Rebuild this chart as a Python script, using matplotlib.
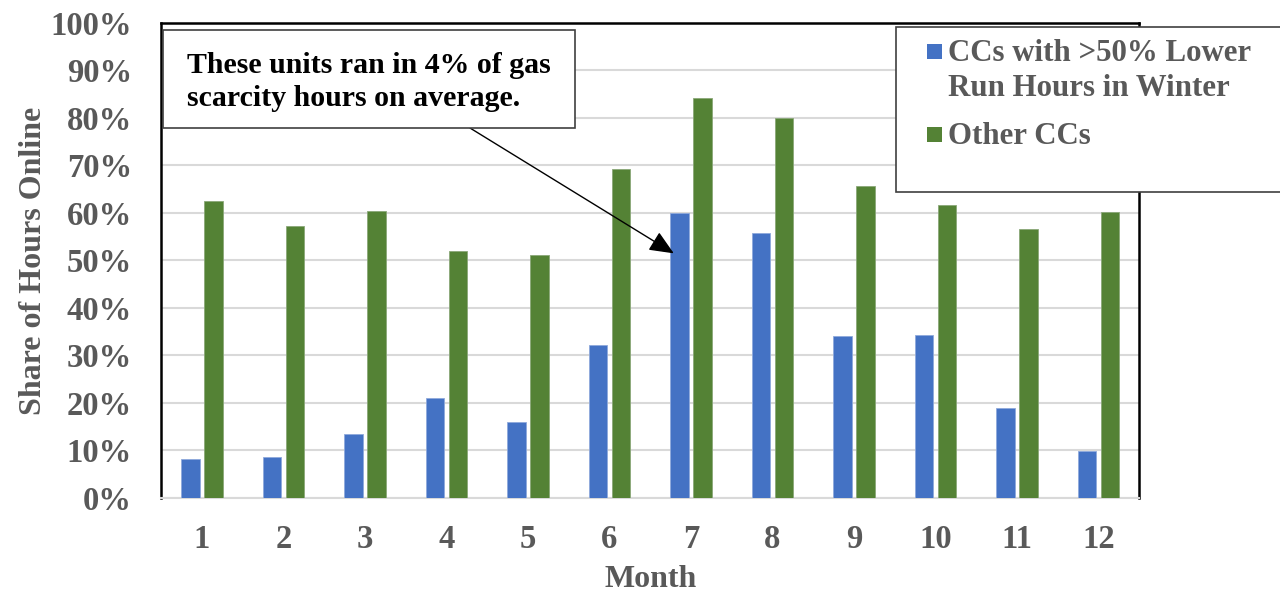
import matplotlib
matplotlib.use('Agg')
import matplotlib.pyplot as plt
from matplotlib.patches import Rectangle
import numpy as np

# Data
months = [1, 2, 3, 4, 5, 6, 7, 8, 9, 10, 11, 12]
low_winter_ccs = [8.2, 8.6, 13.4, 21.0, 16.1, 32.3, 60.0, 55.8, 34.0, 34.4, 18.9, 9.9]
other_ccs = [62.5, 57.2, 60.4, 52.0, 51.2, 69.2, 84.3, 79.9, 65.6, 61.6, 56.6, 60.2]
y_ticks = [0, 10, 20, 30, 40, 50, 60, 70, 80, 90, 100]

BLUE = '#4472C4'
GREEN = '#548235'
GRAY_TEXT = '#595959'

plt.rcParams['font.family'] = ['Liberation Serif', 'DejaVu Serif']
plt.rcParams['font.weight'] = 'bold'
plt.rcParams['axes.labelweight'] = 'bold'

fig = plt.figure(figsize=(12.8, 5.92), dpi=100)
ax = fig.add_axes([0.126, 0.1588, 0.764, 0.8024])

x = np.array(months)
w = 0.225
off = 0.141
ax.bar(x - off, low_winter_ccs, width=w, color=BLUE, edgecolor='#8fa9dc', linewidth=0.6, zorder=3)
ax.bar(x + off, other_ccs, width=w, color=GREEN, edgecolor='#8aa878', linewidth=0.6, zorder=3)

ax.set_xlim(0.5, 12.5)
ax.set_ylim(0, 100)
ax.set_yticks(y_ticks)
ax.set_yticklabels([f'{v}%' for v in y_ticks])
ax.set_xticks(months)
ax.set_xticklabels([str(m) for m in months])
ax.tick_params(axis='both', length=0, labelsize=23.5, labelcolor=GRAY_TEXT)
ax.tick_params(axis='y', pad=21)
ax.tick_params(axis='x', pad=19)
ax.grid(axis='y', color='#d9d9d9', linewidth=1.5, zorder=0)

for s in ['left', 'top', 'right']:
    ax.spines[s].set_color('black')
    ax.spines[s].set_linewidth(1.8)
ax.spines['bottom'].set_color('#d9d9d9')
ax.spines['bottom'].set_linewidth(1.5)

ax.set_ylabel('Share of Hours Online', fontsize=23, color=GRAY_TEXT, labelpad=2)
ax.set_xlabel('Month', fontsize=23, color=GRAY_TEXT, labelpad=7)

# Annotation box with arrow pointing at month 7
ax.annotate('', xy=(7 - off - 0.07, 51.5), xycoords='data',
            xytext=(470 / 1280, 1 - 128 / 592), textcoords='figure fraction',
            arrowprops=dict(arrowstyle='-|>,head_length=1.5,head_width=0.65',
                            color='black', linewidth=1.0, shrinkA=0, shrinkB=0),
            zorder=5)
fig.add_artist(Rectangle((163 / 1280, 1 - 128 / 592), 412 / 1280, 98 / 592,
                         transform=fig.transFigure, facecolor='white',
                         edgecolor='#404040', linewidth=1.2, zorder=6))
fig.text(187 / 1280, 1 - 82 / 592,
         'These units ran in 4% of gas\nscarcity hours on average.',
         fontsize=21.5, color='black', fontweight='bold', va='center', ha='left',
         linespacing=1.3, zorder=7)

# Legend drawn as a box partly outside the figure
fig.add_artist(Rectangle((896 / 1280, 1 - 192 / 592), 400 / 1280, 165 / 592,
                         transform=fig.transFigure, facecolor='white',
                         edgecolor='#404040', linewidth=1.2, zorder=6))
for (yc, col) in [(51, BLUE), (134, GREEN)]:
    fig.add_artist(Rectangle((927 / 1280, 1 - (yc + 7.5) / 592), 15 / 1280, 15 / 592,
                             transform=fig.transFigure, facecolor=col,
                             edgecolor='none', zorder=7))
fig.text(948 / 1280, 1 - 71 / 592, 'CCs with >50% Lower\nRun Hours in Winter',
         fontsize=22.2, color=GRAY_TEXT, fontweight='bold', va='center', ha='left',
         linespacing=1.27, zorder=7)
fig.text(948 / 1280, 1 - 136 / 592, 'Other CCs',
         fontsize=22.2, color=GRAY_TEXT, fontweight='bold', va='center', ha='left',
         zorder=7)

fig.savefig('out.png', dpi=100)
plt.close(fig)
